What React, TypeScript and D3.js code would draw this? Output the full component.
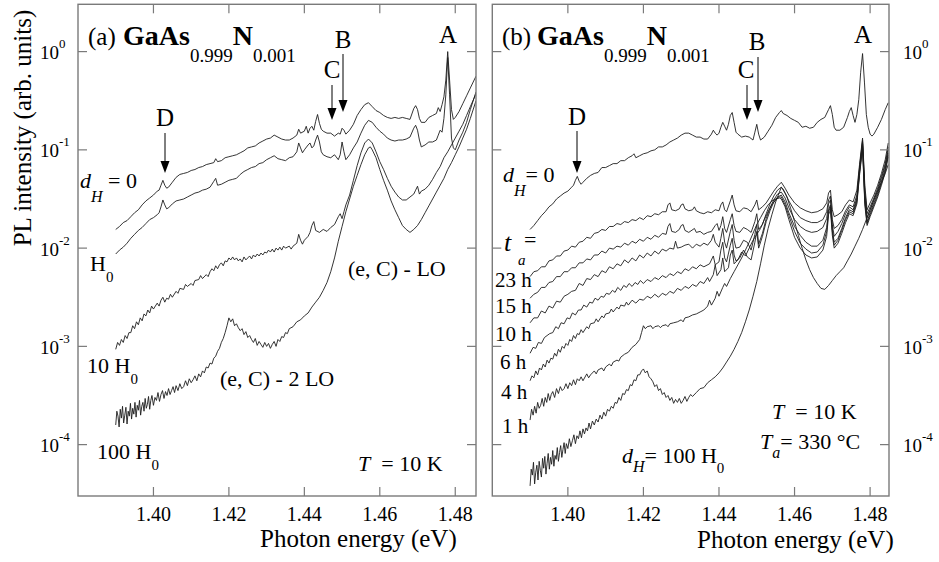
import React from 'react';
import * as d3 from 'd3';

type P = [number, number]; // [photon energy (eV), log10 PL intensity]

const energyTicks = [1.40, 1.42, 1.44, 1.46, 1.48];
const decadeTicks = [0, -1, -2, -3, -4];

// ---------- Panel (a) ----------
const aDH0: P[] = [[1.390,-1.81],[1.391,-1.78],[1.392,-1.74],[1.393,-1.72],[1.394,-1.68],[1.395,-1.64],[1.396,-1.61],[1.397,-1.56],[1.398,-1.52],[1.399,-1.49],[1.400,-1.46],[1.401,-1.42],[1.4015,-1.41],[1.402,-1.36],[1.4025,-1.31],[1.403,-1.36],[1.4035,-1.39],[1.404,-1.38],[1.405,-1.33],[1.406,-1.28],[1.407,-1.25],[1.408,-1.24],[1.409,-1.23],[1.410,-1.21],[1.411,-1.20],[1.412,-1.18],[1.413,-1.17],[1.414,-1.15],[1.415,-1.14],[1.416,-1.13],[1.4165,-1.09],[1.417,-1.12],[1.418,-1.11],[1.419,-1.08],[1.420,-1.07],[1.421,-1.06],[1.422,-1.05],[1.423,-1.03],[1.424,-1.01],[1.425,-0.98],[1.426,-0.97],[1.427,-0.96],[1.428,-0.93],[1.429,-0.91],[1.430,-0.89],[1.431,-0.88],[1.432,-0.85],[1.433,-0.87],[1.434,-0.89],[1.435,-0.90],[1.436,-0.90],[1.437,-0.88],[1.438,-0.85],[1.4385,-0.79],[1.439,-0.83],[1.440,-0.81],[1.4405,-0.76],[1.441,-0.83],[1.4415,-0.78],[1.442,-0.76],[1.4425,-0.80],[1.443,-0.71],[1.4435,-0.64],[1.444,-0.73],[1.4445,-0.79],[1.445,-0.81],[1.446,-0.83],[1.447,-0.83],[1.448,-0.86],[1.449,-0.83],[1.4495,-0.84],[1.450,-0.78],[1.4505,-0.80],[1.451,-0.84],[1.452,-0.80],[1.453,-0.74],[1.454,-0.65],[1.455,-0.59],[1.456,-0.54],[1.457,-0.52],[1.458,-0.56],[1.459,-0.60],[1.460,-0.62],[1.461,-0.65],[1.462,-0.67],[1.463,-0.68],[1.464,-0.67],[1.465,-0.68],[1.466,-0.67],[1.467,-0.68],[1.468,-0.69],[1.469,-0.58],[1.4695,-0.55],[1.470,-0.59],[1.4705,-0.68],[1.471,-0.72],[1.472,-0.72],[1.473,-0.67],[1.474,-0.65],[1.475,-0.63],[1.4755,-0.57],[1.476,-0.61],[1.4765,-0.54],[1.477,-0.46],[1.4775,-0.29],[1.478,0.00],[1.4785,-0.29],[1.479,-0.59],[1.4795,-0.69],[1.480,-0.67],[1.481,-0.61],[1.482,-0.53],[1.483,-0.45],[1.484,-0.37],[1.4855,-0.25]];

const aH0: P[] = [[1.390,-2.06],[1.391,-2.02],[1.392,-1.99],[1.393,-1.95],[1.394,-1.90],[1.395,-1.86],[1.396,-1.82],[1.397,-1.79],[1.398,-1.75],[1.399,-1.71],[1.400,-1.69],[1.401,-1.66],[1.4015,-1.64],[1.402,-1.58],[1.4025,-1.51],[1.403,-1.56],[1.4035,-1.60],[1.404,-1.59],[1.405,-1.55],[1.406,-1.52],[1.407,-1.51],[1.408,-1.50],[1.409,-1.48],[1.410,-1.46],[1.411,-1.44],[1.412,-1.43],[1.413,-1.41],[1.414,-1.40],[1.415,-1.38],[1.416,-1.32],[1.4165,-1.29],[1.417,-1.36],[1.418,-1.35],[1.419,-1.33],[1.420,-1.31],[1.421,-1.30],[1.422,-1.29],[1.423,-1.25],[1.424,-1.22],[1.425,-1.20],[1.426,-1.18],[1.427,-1.17],[1.428,-1.14],[1.429,-1.13],[1.430,-1.10],[1.431,-1.08],[1.432,-1.06],[1.433,-1.09],[1.434,-1.10],[1.435,-1.11],[1.436,-1.08],[1.437,-1.07],[1.438,-1.02],[1.4385,-0.93],[1.439,-0.98],[1.4395,-1.03],[1.440,-1.00],[1.441,-0.95],[1.4415,-0.93],[1.442,-0.98],[1.4425,-0.96],[1.443,-0.90],[1.4435,-0.85],[1.444,-0.92],[1.4445,-1.02],[1.445,-1.05],[1.446,-1.07],[1.447,-1.08],[1.448,-1.05],[1.449,-1.10],[1.4495,-1.05],[1.450,-0.92],[1.4505,-1.02],[1.451,-1.10],[1.452,-1.05],[1.453,-0.98],[1.454,-0.92],[1.455,-0.83],[1.456,-0.75],[1.457,-0.70],[1.458,-0.72],[1.459,-0.77],[1.460,-0.81],[1.461,-0.84],[1.462,-0.88],[1.463,-0.90],[1.464,-0.91],[1.465,-0.90],[1.466,-0.90],[1.467,-0.89],[1.468,-0.87],[1.469,-0.78],[1.4695,-0.75],[1.470,-0.80],[1.4705,-0.90],[1.471,-0.97],[1.472,-0.95],[1.473,-0.92],[1.474,-0.92],[1.475,-0.90],[1.4755,-0.85],[1.476,-0.80],[1.4765,-0.82],[1.477,-0.68],[1.4775,-0.44],[1.478,-0.06],[1.4785,-0.44],[1.479,-0.88],[1.4795,-0.98],[1.480,-1.00],[1.481,-0.90],[1.482,-0.82],[1.483,-0.72],[1.484,-0.59],[1.4855,-0.41]];

const a10H0: P[] = [[1.390,-3.03],[1.3905,-2.96],[1.391,-2.99],[1.3915,-2.93],[1.392,-2.96],[1.3925,-2.89],[1.393,-2.92],[1.3935,-2.86],[1.394,-2.86],[1.3945,-2.79],[1.395,-2.82],[1.3955,-2.75],[1.396,-2.78],[1.3965,-2.71],[1.397,-2.74],[1.3975,-2.67],[1.398,-2.69],[1.3985,-2.63],[1.399,-2.66],[1.3995,-2.59],[1.400,-2.62],[1.401,-2.56],[1.4015,-2.59],[1.402,-2.53],[1.4025,-2.50],[1.403,-2.55],[1.4035,-2.51],[1.404,-2.52],[1.4045,-2.47],[1.405,-2.50],[1.406,-2.44],[1.4065,-2.46],[1.407,-2.41],[1.408,-2.42],[1.4085,-2.37],[1.409,-2.39],[1.410,-2.36],[1.4105,-2.38],[1.411,-2.33],[1.412,-2.32],[1.4125,-2.28],[1.413,-2.31],[1.414,-2.27],[1.4145,-2.29],[1.415,-2.24],[1.4155,-2.21],[1.416,-2.23],[1.4165,-2.18],[1.417,-2.21],[1.4175,-2.17],[1.418,-2.15],[1.4185,-2.18],[1.419,-2.13],[1.4195,-2.14],[1.420,-2.10],[1.4205,-2.12],[1.421,-2.09],[1.4215,-2.12],[1.422,-2.10],[1.4225,-2.13],[1.423,-2.11],[1.4235,-2.14],[1.424,-2.09],[1.4245,-2.12],[1.425,-2.10],[1.4255,-2.08],[1.426,-2.11],[1.4265,-2.07],[1.427,-2.09],[1.4275,-2.06],[1.428,-2.08],[1.4285,-2.05],[1.429,-2.07],[1.4295,-2.04],[1.430,-2.05],[1.4305,-2.02],[1.431,-2.04],[1.4315,-2.01],[1.432,-2.04],[1.4325,-2.00],[1.433,-2.02],[1.4335,-1.99],[1.434,-2.02],[1.4345,-1.98],[1.435,-2.00],[1.436,-1.98],[1.4365,-2.01],[1.437,-1.98],[1.438,-1.95],[1.4385,-1.86],[1.439,-1.92],[1.4395,-1.96],[1.440,-1.92],[1.441,-1.88],[1.4415,-1.84],[1.442,-1.77],[1.4425,-1.73],[1.443,-1.82],[1.444,-1.84],[1.445,-1.81],[1.446,-1.83],[1.447,-1.79],[1.448,-1.76],[1.449,-1.68],[1.4495,-1.65],[1.450,-1.70],[1.4505,-1.63],[1.451,-1.56],[1.452,-1.46],[1.453,-1.31],[1.454,-1.16],[1.455,-1.03],[1.456,-0.93],[1.457,-0.89],[1.458,-0.93],[1.459,-1.02],[1.460,-1.12],[1.461,-1.20],[1.462,-1.29],[1.463,-1.37],[1.464,-1.43],[1.465,-1.48],[1.466,-1.51],[1.467,-1.51],[1.468,-1.48],[1.469,-1.45],[1.4695,-1.41],[1.470,-1.37],[1.4705,-1.45],[1.471,-1.42],[1.472,-1.40],[1.473,-1.36],[1.474,-1.30],[1.475,-1.23],[1.476,-1.17],[1.477,-1.08],[1.478,-1.02],[1.479,-0.95],[1.480,-0.88],[1.481,-0.81],[1.482,-0.74],[1.483,-0.65],[1.484,-0.56],[1.4855,-0.43]];

const a100H0: P[] = [[1.3900,-3.80],[1.3903,-3.66],[1.3906,-3.71],[1.3909,-3.82],[1.3912,-3.64],[1.3915,-3.73],[1.3918,-3.61],[1.3921,-3.78],[1.3924,-3.70],[1.3927,-3.62],[1.3930,-3.79],[1.3933,-3.66],[1.3936,-3.71],[1.3939,-3.58],[1.3942,-3.74],[1.3945,-3.63],[1.3948,-3.69],[1.3951,-3.57],[1.3954,-3.72],[1.3957,-3.60],[1.3960,-3.65],[1.3963,-3.55],[1.3966,-3.70],[1.3969,-3.61],[1.3972,-3.57],[1.3975,-3.66],[1.3978,-3.53],[1.3981,-3.63],[1.3984,-3.59],[1.3987,-3.51],[1.3990,-3.64],[1.3993,-3.55],[1.3996,-3.50],[1.4000,-3.60],[1.4004,-3.52],[1.4008,-3.55],[1.4012,-3.47],[1.4016,-3.56],[1.4020,-3.49],[1.4024,-3.45],[1.4028,-3.53],[1.4032,-3.46],[1.4036,-3.50],[1.4040,-3.43],[1.4044,-3.49],[1.4048,-3.45],[1.4052,-3.41],[1.4056,-3.47],[1.4060,-3.40],[1.4065,-3.45],[1.4070,-3.38],[1.4075,-3.43],[1.4080,-3.41],[1.4085,-3.35],[1.4090,-3.40],[1.4095,-3.33],[1.4100,-3.37],[1.4105,-3.34],[1.4110,-3.30],[1.4115,-3.35],[1.4120,-3.28],[1.4125,-3.31],[1.4130,-3.25],[1.4135,-3.27],[1.4140,-3.21],[1.4145,-3.22],[1.4150,-3.17],[1.4155,-3.18],[1.4160,-3.12],[1.4165,-3.10],[1.4170,-3.05],[1.4175,-3.02],[1.4180,-2.96],[1.4185,-2.92],[1.4190,-2.86],[1.4195,-2.79],[1.4200,-2.71],[1.4205,-2.75],[1.4210,-2.72],[1.4215,-2.79],[1.4220,-2.77],[1.4225,-2.81],[1.4230,-2.84],[1.4235,-2.82],[1.4240,-2.88],[1.4245,-2.85],[1.4250,-2.91],[1.4255,-2.89],[1.4260,-2.93],[1.4265,-2.96],[1.4270,-2.92],[1.4275,-2.99],[1.4280,-2.95],[1.4285,-2.98],[1.4290,-3.01],[1.4295,-2.96],[1.4300,-3.00],[1.4305,-2.97],[1.4310,-3.02],[1.4315,-2.98],[1.4320,-2.95],[1.4325,-3.00],[1.4330,-2.93],[1.4335,-2.95],[1.4340,-2.90],[1.4345,-2.91],[1.4350,-2.86],[1.4355,-2.87],[1.4360,-2.82],[1.4370,-2.80],[1.4380,-2.75],[1.4390,-2.73],[1.4400,-2.69],[1.4410,-2.66],[1.4420,-2.60],[1.4430,-2.55],[1.4440,-2.50],[1.4450,-2.43],[1.4460,-2.35],[1.4470,-2.24],[1.4480,-2.10],[1.4490,-1.93],[1.4500,-1.78],[1.4510,-1.63],[1.4520,-1.50],[1.4530,-1.37],[1.4540,-1.26],[1.4550,-1.15],[1.4560,-1.05],[1.4570,-0.98],[1.4575,-0.97],[1.4580,-1.00],[1.4590,-1.08],[1.4600,-1.20],[1.4610,-1.31],[1.4620,-1.41],[1.4630,-1.52],[1.4640,-1.61],[1.4650,-1.69],[1.4660,-1.77],[1.4670,-1.81],[1.4680,-1.84],[1.4690,-1.81],[1.4700,-1.77],[1.4710,-1.71],[1.4720,-1.64],[1.4730,-1.57],[1.4740,-1.50],[1.4750,-1.43],[1.4760,-1.36],[1.4770,-1.29],[1.4780,-1.20],[1.4790,-1.13],[1.4800,-1.05],[1.4810,-0.97],[1.4820,-0.88],[1.4830,-0.79],[1.4840,-0.68],[1.4855,-0.50]];

// ---------- Panel (b) ----------
const bDH0: P[] = [[1.3900,-1.81],[1.3910,-1.77],[1.3920,-1.72],[1.3930,-1.67],[1.3940,-1.63],[1.3950,-1.58],[1.3960,-1.55],[1.3970,-1.50],[1.3980,-1.47],[1.3990,-1.44],[1.4000,-1.42],[1.4010,-1.38],[1.4015,-1.36],[1.4020,-1.31],[1.4025,-1.27],[1.4030,-1.32],[1.4035,-1.35],[1.4040,-1.33],[1.4050,-1.29],[1.4060,-1.26],[1.4070,-1.24],[1.4080,-1.23],[1.4090,-1.18],[1.4100,-1.18],[1.4110,-1.16],[1.4120,-1.14],[1.4130,-1.14],[1.4140,-1.11],[1.4150,-1.11],[1.4160,-1.08],[1.4170,-1.06],[1.4175,-1.04],[1.4180,-1.08],[1.4190,-1.06],[1.4200,-1.04],[1.4210,-1.03],[1.4220,-1.01],[1.4230,-1.00],[1.4240,-0.97],[1.4250,-0.97],[1.4260,-0.95],[1.4270,-0.92],[1.4280,-0.90],[1.4290,-0.88],[1.4300,-0.85],[1.4310,-0.83],[1.4320,-0.83],[1.4330,-0.85],[1.4340,-0.87],[1.4350,-0.87],[1.4360,-0.89],[1.4370,-0.89],[1.4380,-0.84],[1.4385,-0.80],[1.4390,-0.83],[1.4395,-0.85],[1.4400,-0.83],[1.4405,-0.77],[1.4410,-0.72],[1.4415,-0.76],[1.4420,-0.80],[1.4425,-0.74],[1.4430,-0.65],[1.4435,-0.62],[1.4440,-0.72],[1.4445,-0.82],[1.4450,-0.84],[1.4460,-0.87],[1.4470,-0.86],[1.4480,-0.87],[1.4490,-0.90],[1.4495,-0.82],[1.4500,-0.74],[1.4505,-0.84],[1.4510,-0.90],[1.4520,-0.87],[1.4530,-0.81],[1.4540,-0.75],[1.4550,-0.67],[1.4560,-0.62],[1.4565,-0.60],[1.4570,-0.63],[1.4580,-0.65],[1.4590,-0.68],[1.4600,-0.70],[1.4610,-0.72],[1.4620,-0.77],[1.4630,-0.76],[1.4640,-0.78],[1.4650,-0.77],[1.4660,-0.72],[1.4670,-0.69],[1.4680,-0.67],[1.4690,-0.59],[1.4695,-0.55],[1.4700,-0.64],[1.4705,-0.77],[1.4710,-0.80],[1.4720,-0.80],[1.4730,-0.77],[1.4740,-0.67],[1.4745,-0.61],[1.4750,-0.57],[1.4755,-0.65],[1.4760,-0.72],[1.4765,-0.64],[1.4770,-0.49],[1.4775,-0.21],[1.4780,-0.02],[1.4785,-0.31],[1.4790,-0.64],[1.4795,-0.77],[1.4800,-0.84],[1.4805,-0.86],[1.4810,-0.84],[1.4820,-0.77],[1.4830,-0.69],[1.4840,-0.59],[1.4848,-0.52]];

const bT23h: P[] = [[1.390,-2.29],[1.391,-2.24],[1.392,-2.23],[1.393,-2.19],[1.394,-2.19],[1.395,-2.13],[1.396,-2.12],[1.397,-2.08],[1.398,-2.08],[1.399,-2.03],[1.400,-2.02],[1.401,-1.98],[1.402,-1.99],[1.403,-1.94],[1.404,-1.93],[1.405,-1.89],[1.406,-1.90],[1.407,-1.85],[1.408,-1.84],[1.409,-1.81],[1.410,-1.82],[1.411,-1.78],[1.412,-1.78],[1.413,-1.75],[1.414,-1.76],[1.415,-1.73],[1.416,-1.74],[1.417,-1.71],[1.418,-1.72],[1.419,-1.69],[1.420,-1.71],[1.421,-1.67],[1.422,-1.68],[1.423,-1.65],[1.424,-1.66],[1.425,-1.63],[1.4260,-1.63],[1.4265,-1.56],[1.4270,-1.54],[1.4275,-1.61],[1.4285,-1.62],[1.4295,-1.60],[1.4300,-1.56],[1.4305,-1.55],[1.4310,-1.60],[1.4320,-1.62],[1.4330,-1.61],[1.4335,-1.58],[1.4340,-1.62],[1.4350,-1.64],[1.4360,-1.65],[1.4370,-1.63],[1.4380,-1.64],[1.4390,-1.61],[1.4400,-1.62],[1.4405,-1.56],[1.4410,-1.53],[1.4415,-1.61],[1.4420,-1.63],[1.4430,-1.52],[1.4435,-1.46],[1.4440,-1.56],[1.4445,-1.62],[1.4455,-1.63],[1.4465,-1.59],[1.4475,-1.60],[1.4485,-1.63],[1.4495,-1.56],[1.4500,-1.51],[1.4505,-1.61],[1.4515,-1.58],[1.4525,-1.54],[1.4535,-1.48],[1.4545,-1.42],[1.4555,-1.37],[1.4565,-1.33],[1.4575,-1.39],[1.4585,-1.46],[1.4600,-1.54],[1.4615,-1.59],[1.4630,-1.62],[1.4645,-1.64],[1.4660,-1.63],[1.4675,-1.60],[1.4685,-1.54],[1.4690,-1.44],[1.4695,-1.41],[1.4700,-1.61],[1.4705,-1.68],[1.4715,-1.66],[1.4725,-1.63],[1.4735,-1.56],[1.4745,-1.51],[1.4755,-1.53],[1.4765,-1.41],[1.4772,-1.15],[1.4780,-0.88],[1.4786,-1.36],[1.4792,-1.61],[1.4800,-1.54],[1.4810,-1.46],[1.4820,-1.36],[1.4830,-1.24],[1.4840,-1.10],[1.4848,-0.93]];

const bT15h: P[] = [[1.390,-2.51],[1.391,-2.47],[1.392,-2.45],[1.393,-2.40],[1.394,-2.40],[1.395,-2.35],[1.396,-2.34],[1.397,-2.29],[1.398,-2.29],[1.399,-2.24],[1.400,-2.24],[1.401,-2.20],[1.402,-2.20],[1.403,-2.15],[1.404,-2.15],[1.405,-2.11],[1.406,-2.12],[1.407,-2.07],[1.408,-2.07],[1.409,-2.03],[1.410,-2.05],[1.411,-2.00],[1.412,-2.01],[1.413,-1.98],[1.414,-1.99],[1.415,-1.95],[1.416,-1.97],[1.417,-1.93],[1.418,-1.95],[1.419,-1.91],[1.420,-1.93],[1.421,-1.89],[1.422,-1.91],[1.423,-1.87],[1.424,-1.89],[1.425,-1.85],[1.4260,-1.86],[1.4265,-1.78],[1.4270,-1.75],[1.4275,-1.83],[1.4285,-1.84],[1.4295,-1.81],[1.4300,-1.77],[1.4305,-1.76],[1.4310,-1.82],[1.4320,-1.84],[1.4335,-1.80],[1.4340,-1.84],[1.4350,-1.83],[1.4360,-1.86],[1.4370,-1.84],[1.4380,-1.83],[1.4390,-1.77],[1.4395,-1.75],[1.4400,-1.82],[1.4405,-1.77],[1.4410,-1.68],[1.4415,-1.80],[1.4420,-1.84],[1.4430,-1.71],[1.4435,-1.65],[1.4440,-1.77],[1.4445,-1.83],[1.4455,-1.84],[1.4465,-1.79],[1.4475,-1.81],[1.4485,-1.84],[1.4495,-1.73],[1.4500,-1.65],[1.4505,-1.81],[1.4515,-1.76],[1.4525,-1.65],[1.4535,-1.55],[1.4545,-1.47],[1.4555,-1.41],[1.4565,-1.38],[1.4575,-1.44],[1.4585,-1.52],[1.4600,-1.62],[1.4615,-1.69],[1.4630,-1.72],[1.4645,-1.74],[1.4660,-1.74],[1.4675,-1.71],[1.4685,-1.63],[1.4690,-1.51],[1.4695,-1.47],[1.4700,-1.71],[1.4705,-1.80],[1.4715,-1.77],[1.4725,-1.71],[1.4735,-1.62],[1.4745,-1.56],[1.4755,-1.58],[1.4765,-1.46],[1.4772,-1.18],[1.4780,-0.90],[1.4786,-1.41],[1.4792,-1.65],[1.4800,-1.58],[1.4810,-1.49],[1.4820,-1.39],[1.4830,-1.27],[1.4840,-1.14],[1.4848,-0.97]];

const bT10h: P[] = [[1.390,-2.76],[1.391,-2.71],[1.392,-2.71],[1.393,-2.64],[1.394,-2.66],[1.395,-2.59],[1.396,-2.61],[1.397,-2.54],[1.398,-2.55],[1.399,-2.49],[1.400,-2.47],[1.401,-2.44],[1.402,-2.43],[1.403,-2.36],[1.404,-2.38],[1.405,-2.31],[1.406,-2.32],[1.407,-2.27],[1.408,-2.29],[1.409,-2.23],[1.410,-2.25],[1.411,-2.19],[1.412,-2.21],[1.413,-2.16],[1.414,-2.18],[1.415,-2.12],[1.416,-2.15],[1.417,-2.10],[1.418,-2.13],[1.419,-2.07],[1.420,-2.10],[1.421,-2.05],[1.422,-2.08],[1.423,-2.03],[1.424,-2.06],[1.425,-2.01],[1.426,-2.03],[1.427,-2.00],[1.4280,-2.01],[1.4285,-1.93],[1.4290,-2.00],[1.4300,-1.99],[1.4310,-1.97],[1.4320,-1.96],[1.4330,-2.00],[1.4340,-1.96],[1.4350,-1.98],[1.4360,-1.95],[1.4370,-1.97],[1.4380,-1.92],[1.4385,-1.86],[1.4390,-1.94],[1.4400,-1.99],[1.4405,-1.90],[1.4410,-1.80],[1.4415,-1.94],[1.4420,-2.00],[1.4430,-1.83],[1.4435,-1.76],[1.4440,-1.92],[1.4445,-2.00],[1.4455,-1.99],[1.4465,-1.92],[1.4475,-1.94],[1.4485,-2.02],[1.4495,-1.86],[1.4500,-1.76],[1.4505,-1.96],[1.4515,-1.85],[1.4525,-1.70],[1.4535,-1.59],[1.4545,-1.51],[1.4555,-1.45],[1.4565,-1.43],[1.4575,-1.49],[1.4585,-1.59],[1.4600,-1.71],[1.4615,-1.78],[1.4630,-1.82],[1.4645,-1.84],[1.4660,-1.83],[1.4675,-1.79],[1.4685,-1.70],[1.4690,-1.55],[1.4695,-1.51],[1.4700,-1.76],[1.4705,-1.88],[1.4715,-1.83],[1.4725,-1.75],[1.4735,-1.65],[1.4745,-1.58],[1.4755,-1.61],[1.4765,-1.49],[1.4772,-1.20],[1.4780,-0.92],[1.4786,-1.46],[1.4792,-1.69],[1.4800,-1.61],[1.4810,-1.51],[1.4820,-1.41],[1.4830,-1.29],[1.4840,-1.16],[1.4848,-1.00]];

const bT6h: P[] = [[1.3900,-3.07],[1.3908,-3.01],[1.3915,-3.02],[1.3922,-2.96],[1.3930,-2.97],[1.3938,-2.91],[1.3945,-2.89],[1.3952,-2.87],[1.3960,-2.86],[1.3968,-2.80],[1.3975,-2.82],[1.3982,-2.76],[1.3990,-2.77],[1.3998,-2.71],[1.4005,-2.72],[1.4012,-2.66],[1.4020,-2.68],[1.4028,-2.63],[1.4035,-2.63],[1.4042,-2.58],[1.4050,-2.60],[1.4058,-2.55],[1.4065,-2.56],[1.4072,-2.51],[1.4080,-2.53],[1.4088,-2.49],[1.4095,-2.50],[1.4102,-2.46],[1.4110,-2.47],[1.4118,-2.43],[1.4125,-2.45],[1.4132,-2.40],[1.4140,-2.43],[1.4148,-2.38],[1.4155,-2.40],[1.4162,-2.36],[1.4170,-2.39],[1.4178,-2.35],[1.4185,-2.37],[1.4192,-2.33],[1.4200,-2.36],[1.4210,-2.32],[1.4220,-2.34],[1.4230,-2.30],[1.4240,-2.32],[1.4250,-2.28],[1.4260,-2.30],[1.4270,-2.26],[1.4280,-2.28],[1.4290,-2.24],[1.4300,-2.26],[1.4310,-2.21],[1.4320,-2.23],[1.4330,-2.19],[1.4340,-2.21],[1.4350,-2.17],[1.4360,-2.19],[1.4375,-2.16],[1.4385,-2.08],[1.4390,-2.17],[1.4400,-2.14],[1.4405,-2.02],[1.4410,-1.94],[1.4415,-2.10],[1.4420,-2.14],[1.4430,-1.97],[1.4435,-1.90],[1.4440,-2.07],[1.4445,-2.13],[1.4455,-2.10],[1.4465,-2.02],[1.4475,-2.09],[1.4485,-2.12],[1.4495,-1.94],[1.4500,-1.83],[1.4505,-2.00],[1.4515,-1.88],[1.4525,-1.73],[1.4535,-1.62],[1.4545,-1.53],[1.4555,-1.48],[1.4565,-1.46],[1.4575,-1.53],[1.4585,-1.64],[1.4600,-1.78],[1.4615,-1.87],[1.4630,-1.94],[1.4645,-1.98],[1.4660,-1.98],[1.4675,-1.92],[1.4685,-1.79],[1.4690,-1.61],[1.4695,-1.56],[1.4700,-1.81],[1.4705,-1.94],[1.4715,-1.90],[1.4725,-1.80],[1.4735,-1.69],[1.4745,-1.61],[1.4755,-1.63],[1.4765,-1.51],[1.4772,-1.22],[1.4780,-0.94],[1.4786,-1.51],[1.4792,-1.73],[1.4800,-1.64],[1.4810,-1.54],[1.4820,-1.44],[1.4830,-1.32],[1.4840,-1.19],[1.4848,-1.03]];

const bT4h: P[] = [[1.3900,-3.35],[1.3905,-3.30],[1.3910,-3.32],[1.3915,-3.25],[1.3920,-3.29],[1.3925,-3.22],[1.3930,-3.24],[1.3935,-3.18],[1.3940,-3.21],[1.3945,-3.14],[1.3950,-3.17],[1.3955,-3.12],[1.3960,-3.13],[1.3965,-3.07],[1.3970,-3.10],[1.3975,-3.03],[1.3980,-3.06],[1.3985,-3.00],[1.3990,-3.02],[1.3995,-2.97],[1.4000,-2.99],[1.4005,-2.93],[1.4010,-2.95],[1.4015,-2.89],[1.4020,-2.92],[1.4025,-2.87],[1.4030,-2.88],[1.4035,-2.83],[1.4040,-2.86],[1.4050,-2.80],[1.4055,-2.82],[1.4060,-2.77],[1.4070,-2.76],[1.4075,-2.72],[1.4080,-2.75],[1.4090,-2.69],[1.4095,-2.71],[1.4100,-2.67],[1.4110,-2.66],[1.4115,-2.62],[1.4120,-2.65],[1.4130,-2.60],[1.4135,-2.62],[1.4140,-2.58],[1.4150,-2.59],[1.4155,-2.55],[1.4160,-2.58],[1.4170,-2.53],[1.4180,-2.56],[1.4190,-2.52],[1.4200,-2.53],[1.4210,-2.49],[1.4220,-2.51],[1.4230,-2.47],[1.4240,-2.50],[1.4250,-2.46],[1.4260,-2.48],[1.4270,-2.44],[1.4280,-2.46],[1.4290,-2.41],[1.4300,-2.43],[1.4310,-2.39],[1.4320,-2.41],[1.4330,-2.37],[1.4340,-2.39],[1.4350,-2.34],[1.4360,-2.36],[1.4370,-2.30],[1.4375,-2.34],[1.4385,-2.27],[1.4390,-2.17],[1.4395,-2.28],[1.4405,-2.22],[1.4410,-2.10],[1.4415,-2.24],[1.4425,-2.20],[1.4430,-2.07],[1.4435,-2.02],[1.4440,-2.16],[1.4450,-2.12],[1.4460,-2.04],[1.4470,-2.08],[1.4480,-2.00],[1.4490,-1.92],[1.4500,-1.86],[1.4510,-1.80],[1.4520,-1.71],[1.4530,-1.63],[1.4540,-1.56],[1.4550,-1.51],[1.4560,-1.48],[1.4565,-1.48],[1.4575,-1.56],[1.4585,-1.67],[1.4600,-1.83],[1.4615,-1.95],[1.4630,-2.01],[1.4645,-2.05],[1.4660,-2.04],[1.4675,-1.97],[1.4685,-1.83],[1.4690,-1.63],[1.4695,-1.58],[1.4700,-1.83],[1.4705,-1.97],[1.4715,-1.92],[1.4725,-1.82],[1.4735,-1.71],[1.4745,-1.63],[1.4755,-1.65],[1.4765,-1.53],[1.4772,-1.24],[1.4780,-0.96],[1.4786,-1.53],[1.4792,-1.75],[1.4800,-1.66],[1.4810,-1.56],[1.4820,-1.46],[1.4830,-1.34],[1.4840,-1.21],[1.4848,-1.05]];

const bT1h: P[] = [[1.3900,-3.75],[1.3904,-3.64],[1.3908,-3.70],[1.3912,-3.61],[1.3916,-3.68],[1.3920,-3.57],[1.3924,-3.63],[1.3928,-3.60],[1.3932,-3.53],[1.3936,-3.61],[1.3940,-3.52],[1.3944,-3.57],[1.3948,-3.48],[1.3952,-3.55],[1.3956,-3.49],[1.3960,-3.46],[1.3965,-3.52],[1.3970,-3.43],[1.3975,-3.48],[1.3980,-3.41],[1.3985,-3.45],[1.3990,-3.43],[1.3995,-3.38],[1.4000,-3.43],[1.4005,-3.37],[1.4010,-3.40],[1.4015,-3.34],[1.4020,-3.39],[1.4025,-3.33],[1.4030,-3.35],[1.4035,-3.31],[1.4040,-3.35],[1.4050,-3.28],[1.4055,-3.32],[1.4060,-3.29],[1.4070,-3.25],[1.4075,-3.28],[1.4080,-3.24],[1.4090,-3.22],[1.4095,-3.25],[1.4100,-3.21],[1.4110,-3.18],[1.4115,-3.20],[1.4120,-3.16],[1.4130,-3.14],[1.4135,-3.15],[1.4140,-3.11],[1.4150,-3.08],[1.4160,-3.06],[1.4170,-3.01],[1.4180,-2.98],[1.4190,-2.93],[1.4195,-2.86],[1.4200,-2.79],[1.4205,-2.82],[1.4210,-2.80],[1.4220,-2.79],[1.4225,-2.82],[1.4230,-2.80],[1.4240,-2.79],[1.4245,-2.81],[1.4250,-2.79],[1.4260,-2.78],[1.4265,-2.80],[1.4270,-2.77],[1.4280,-2.76],[1.4290,-2.75],[1.4300,-2.73],[1.4305,-2.75],[1.4310,-2.71],[1.4320,-2.70],[1.4330,-2.68],[1.4340,-2.67],[1.4350,-2.65],[1.4360,-2.63],[1.4370,-2.59],[1.4375,-2.53],[1.4380,-2.58],[1.4390,-2.51],[1.4395,-2.44],[1.4400,-2.49],[1.4410,-2.40],[1.4415,-2.36],[1.4420,-2.39],[1.4430,-2.31],[1.4440,-2.24],[1.4450,-2.17],[1.4460,-2.10],[1.4470,-2.02],[1.4480,-1.94],[1.4490,-1.85],[1.4500,-1.76],[1.4510,-1.69],[1.4520,-1.62],[1.4530,-1.56],[1.4540,-1.52],[1.4550,-1.50],[1.4560,-1.49],[1.4565,-1.50],[1.4575,-1.58],[1.4585,-1.71],[1.4600,-1.89],[1.4615,-2.00],[1.4630,-2.07],[1.4645,-2.10],[1.4660,-2.09],[1.4675,-2.02],[1.4685,-1.88],[1.4690,-1.66],[1.4695,-1.61],[1.4700,-1.87],[1.4705,-2.00],[1.4715,-1.95],[1.4725,-1.85],[1.4735,-1.74],[1.4745,-1.65],[1.4755,-1.67],[1.4765,-1.55],[1.4772,-1.26],[1.4780,-0.98],[1.4786,-1.56],[1.4792,-1.77],[1.4800,-1.68],[1.4810,-1.58],[1.4820,-1.48],[1.4830,-1.36],[1.4840,-1.23],[1.4848,-1.07]];

const b100H0: P[] = [[1.3900,-4.42],[1.3903,-4.25],[1.3906,-4.31],[1.3909,-4.18],[1.3912,-4.40],[1.3915,-4.28],[1.3918,-4.21],[1.3921,-4.36],[1.3924,-4.17],[1.3927,-4.26],[1.3930,-4.33],[1.3933,-4.14],[1.3936,-4.24],[1.3939,-4.12],[1.3942,-4.30],[1.3945,-4.19],[1.3948,-4.09],[1.3951,-4.25],[1.3954,-4.13],[1.3957,-4.20],[1.3960,-4.06],[1.3963,-4.22],[1.3966,-4.11],[1.3969,-4.15],[1.3972,-4.03],[1.3975,-4.17],[1.3978,-4.08],[1.3981,-4.01],[1.3984,-4.13],[1.3987,-4.05],[1.3990,-3.98],[1.3993,-4.09],[1.3996,-3.99],[1.4000,-4.04],[1.4004,-3.94],[1.4008,-4.02],[1.4012,-3.96],[1.4016,-3.90],[1.4020,-3.99],[1.4024,-3.91],[1.4028,-3.94],[1.4032,-3.86],[1.4036,-3.93],[1.4040,-3.84],[1.4044,-3.89],[1.4048,-3.83],[1.4052,-3.86],[1.4056,-3.78],[1.4060,-3.84],[1.4065,-3.76],[1.4070,-3.80],[1.4075,-3.74],[1.4080,-3.77],[1.4085,-3.70],[1.4090,-3.74],[1.4095,-3.67],[1.4100,-3.71],[1.4105,-3.64],[1.4110,-3.66],[1.4115,-3.61],[1.4120,-3.63],[1.4125,-3.57],[1.4130,-3.58],[1.4135,-3.52],[1.4140,-3.55],[1.4145,-3.48],[1.4150,-3.49],[1.4155,-3.44],[1.4160,-3.45],[1.4165,-3.39],[1.4170,-3.40],[1.4175,-3.34],[1.4180,-3.35],[1.4185,-3.29],[1.4190,-3.29],[1.4195,-3.25],[1.4200,-3.23],[1.4205,-3.27],[1.4210,-3.25],[1.4215,-3.31],[1.4220,-3.33],[1.4225,-3.36],[1.4230,-3.41],[1.4235,-3.39],[1.4240,-3.45],[1.4245,-3.43],[1.4250,-3.49],[1.4255,-3.47],[1.4260,-3.52],[1.4265,-3.50],[1.4270,-3.55],[1.4275,-3.52],[1.4280,-3.58],[1.4285,-3.54],[1.4290,-3.57],[1.4295,-3.53],[1.4300,-3.58],[1.4305,-3.55],[1.4310,-3.51],[1.4315,-3.56],[1.4320,-3.52],[1.4325,-3.49],[1.4330,-3.51],[1.4340,-3.47],[1.4350,-3.43],[1.4360,-3.42],[1.4370,-3.37],[1.4380,-3.34],[1.4390,-3.31],[1.4400,-3.27],[1.4410,-3.22],[1.4420,-3.16],[1.4430,-3.10],[1.4440,-3.03],[1.4450,-2.95],[1.4460,-2.86],[1.4470,-2.75],[1.4480,-2.63],[1.4490,-2.49],[1.4500,-2.34],[1.4510,-2.16],[1.4520,-1.97],[1.4530,-1.80],[1.4540,-1.66],[1.4550,-1.53],[1.4560,-1.43],[1.4565,-1.38],[1.4570,-1.40],[1.4580,-1.48],[1.4590,-1.60],[1.4600,-1.73],[1.4610,-1.87],[1.4620,-2.00],[1.4630,-2.12],[1.4640,-2.22],[1.4650,-2.30],[1.4660,-2.36],[1.4670,-2.41],[1.4680,-2.42],[1.4690,-2.38],[1.4700,-2.33],[1.4710,-2.28],[1.4720,-2.24],[1.4730,-2.20],[1.4740,-2.13],[1.4750,-2.06],[1.4760,-1.98],[1.4770,-1.90],[1.4780,-1.81],[1.4790,-1.71],[1.4800,-1.61],[1.4810,-1.51],[1.4820,-1.42],[1.4830,-1.33],[1.4840,-1.24],[1.4848,-1.15]];

const panelACurves = [aDH0, aH0, a10H0, a100H0];
const panelBCurves = [bDH0, bT23h, bT15h, bT10h, bT6h, bT4h, bT1h, b100H0];

const FONT = "'Liberation Serif', 'Times New Roman', Tinos, Times, 'Nimbus Roman', 'Noto Serif', 'DejaVu Serif', FreeSerif, serif";
const FRAME = '#7a7a7a';
const LINE = '#1e1e1e';

const TOP = 4.3, BOTTOM = 496;
const yScale = d3.scaleLog().domain([3.0e-5, 3.03]).range([BOTTOM, TOP]);

const xA = d3.scaleLinear().domain([1.38, 1.4855]).range([78, 476]);
const xB = d3.scaleLinear().domain([1.38, 1.485]).range([492.3, 889]);

function Arrow({ x, y1, y2 }: { x: number; y1: number; y2: number }) {
  return (
    <g>
      <line x1={x} y1={y1} x2={x} y2={y2 - 10} stroke="#000" strokeWidth={1} />
      <polygon points={`${x - 4.5},${y2 - 12} ${x + 4.5},${y2 - 12} ${x},${y2}`} fill="#000" />
    </g>
  );
}

function Panel({ xs, curves, id, labelsRight }: { xs: d3.ScaleLinear<number, number>; curves: P[][]; id: string; labelsRight: boolean }) {
  const [x0, x1] = xs.range();
  const line = d3
    .line<P>()
    .x((d) => xs(d[0]))
    .y((d) => yScale(Math.pow(10, d[1])));
  return (
    <g>
      <defs>
        <clipPath id={id}>
          <rect x={x0} y={TOP} width={x1 - x0} height={BOTTOM - TOP} />
        </clipPath>
      </defs>
      <g clipPath={`url(#${id})`}>
        {curves.map((c, i) => (
          <path key={i} d={line(c) || ''} fill="none" stroke={LINE} strokeWidth={0.9} strokeLinejoin="round" />
        ))}
      </g>
      <rect x={x0} y={TOP} width={x1 - x0} height={BOTTOM - TOP} fill="none" stroke={FRAME} strokeWidth={1.4} />
      {energyTicks.map((t) => (
        <g key={t}>
          <line x1={xs(t)} x2={xs(t)} y1={BOTTOM} y2={BOTTOM - 9} stroke={FRAME} strokeWidth={1.2} />
          <line x1={xs(t)} x2={xs(t)} y1={TOP} y2={TOP + 9} stroke={FRAME} strokeWidth={1.2} />
          <text x={xs(t)} y={521} textAnchor="middle" fontSize={20}>
            {t.toFixed(2)}
          </text>
        </g>
      ))}
      {decadeTicks.map((p) => {
        const y = yScale(Math.pow(10, p));
        const lx = labelsRight ? 903 : 40;
        return (
          <g key={p}>
            <line x1={x0} x2={x0 + 9} y1={y} y2={y} stroke={FRAME} strokeWidth={1.2} />
            <line x1={x1} x2={x1 - 9} y1={y} y2={y} stroke={FRAME} strokeWidth={1.2} />
            <text x={lx} y={y + 7.5} fontSize={19}>
              10
              <tspan fontSize={13} dy={-11}>
                {p === 0 ? '0' : `-${-p}`}
              </tspan>
            </text>
          </g>
        );
      })}
    </g>
  );
}

function Title({ x, tag }: { x: number; tag: string }) {
  return (
    <g>
      <text x={x} y={45} fontSize={25}>
        {tag}
      </text>
      <text x={x + 35} y={45}>
        <tspan fontSize={28} fontWeight="bold">GaAs</tspan>
        <tspan fontSize={19} dy={17}>0.999</tspan>
        <tspan fontSize={28} fontWeight="bold" dy={-17}>N</tspan>
        <tspan fontSize={19} dy={17}>0.001</tspan>
      </text>
    </g>
  );
}

function Sub({ x, y, main, sub }: { x: number; y: number; main: string; sub: string }) {
  return (
    <text x={x} y={y} fontSize={22}>
      <tspan>{main}</tspan>
      <tspan fontSize={15} dy={11}>{sub}</tspan>
    </text>
  );
}

export default function App() {
  return (
    <svg width={939} height={562} style={{ position: 'absolute', left: 0, top: 0, background: '#fff', fontFamily: FONT }}>
      <rect x={0} y={0} width={939} height={562} fill="#fff" />
      <Panel xs={xA} curves={panelACurves} id="clipA" labelsRight={false} />
      <Panel xs={xB} curves={panelBCurves} id="clipB" labelsRight={true} />

      {/* axis titles */}
      <text transform="translate(31,128) rotate(-90)" textAnchor="middle" fontSize={25}>
        PL intensity (arb. units)
      </text>
      <text x={260} y={547} fontSize={25}>Photon energy (eV)</text>
      <text x={697} y={548} fontSize={25}>Photon energy (eV)</text>

      <Title x={88} tag="(a)" />
      <Title x={502} tag="(b)" />

      {/* peak labels */}
      <g fontSize={25} textAnchor="middle">
        <text x={165} y={126}>D</text>
        <text x={332} y={78}>C</text>
        <text x={343} y={48}>B</text>
        <text x={448} y={43}>A</text>
        <text x={577} y={125}>D</text>
        <text x={746} y={78}>C</text>
        <text x={757} y={50}>B</text>
        <text x={863} y={43}>A</text>
      </g>
      <Arrow x={165} y1={133} y2={173} />
      <Arrow x={332} y1={85} y2={120} />
      <Arrow x={343} y1={54} y2={112} />
      <Arrow x={577} y1={131} y2={173} />
      <Arrow x={747} y1={85} y2={120} />
      <Arrow x={758} y1={57} y2={112} />

      {/* panel (a) labels */}
      <text x={80} y={188} fontSize={22}>
        <tspan fontStyle="italic">d</tspan>
        <tspan fontSize={16} fontStyle="italic" dy={14}>H</tspan>
        <tspan dy={-14}> = 0</tspan>
      </text>
      <Sub x={90} y={271} main="H" sub="0" />
      <Sub x={87} y={373} main="10 H" sub="0" />
      <Sub x={97} y={459} main="100 H" sub="0" />
      <text x={348} y={276} fontSize={22}>(e, C) - LO</text>
      <text x={220} y={386} fontSize={22}>(e, C) - 2 LO</text>
      <text x={358} y={471} fontSize={22}>
        <tspan fontStyle="italic">T</tspan>
        <tspan>{'\u00a0 = 10 K'}</tspan>
      </text>

      {/* panel (b) labels */}
      <text x={503} y={182} fontSize={22}>
        <tspan fontStyle="italic">d</tspan>
        <tspan fontSize={16} fontStyle="italic" dy={14}>H</tspan>
        <tspan dy={-14}>= 0</tspan>
      </text>
      <text x={504} y={251} fontSize={26} fontStyle="italic">t</text>
      <text x={518} y={265} fontSize={15} fontStyle="italic">a</text>
      <text x={524} y={247} fontSize={22}>=</text>
      <g fontSize={21}>
        <text x={495} y={287}>23 h</text>
        <text x={495} y={313}>15 h</text>
        <text x={495} y={341}>10 h</text>
        <text x={500} y={369}>6 h</text>
        <text x={501} y={399}>4 h</text>
        <text x={502} y={433}>1 h</text>
      </g>
      <text x={622} y={463} fontSize={22}>
        <tspan fontStyle="italic">d</tspan>
        <tspan fontSize={16} fontStyle="italic" dy={9}>H</tspan>
        <tspan dy={-9}>= 100 H</tspan>
        <tspan fontSize={15} dy={10}>0</tspan>
      </text>
      <text x={772} y={419} fontSize={22}>
        <tspan fontStyle="italic">T</tspan>
        <tspan>{'\u00a0 = 10 K'}</tspan>
      </text>
      <text x={760} y={449} fontSize={22}>
        <tspan fontStyle="italic">T</tspan>
        <tspan fontSize={16} fontStyle="italic" dy={9}>a</tspan>
        <tspan dy={-9}>= 330 °C</tspan>
      </text>
    </svg>
  );
}
